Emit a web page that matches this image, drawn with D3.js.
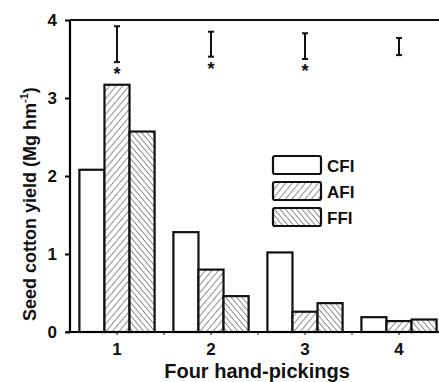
<!DOCTYPE html>
<html>
<head>
<meta charset="utf-8">
<script src="https://cdn.jsdelivr.net/npm/d3@7"></script>
<style>
  body { margin: 0; background: #fff; }
  text { font-family: "Liberation Sans", Arial, sans-serif; font-weight: bold; fill: #111; }
</style>
</head>
<body>
<div id="chart"></div>
<script>
// hand-picking rounds and treatments
var pickings = ["1", "2", "3", "4"];
var treatments = ["CFI", "AFI", "FFI"];

// seed cotton yield, Mg hm-1, one array per treatment
var cfiValues = [2.08, 1.28, 1.02, 0.19];
var afiValues = [3.17, 0.80, 0.26, 0.14];
var ffiValues = [2.57, 0.46, 0.37, 0.16];

// LSD bars (low, high) and significance marks per picking
var lsdLow = [3.46, 3.53, 3.50, 3.55];
var lsdHigh = [3.92, 3.85, 3.83, 3.77];
var significant = [true, true, true, false];

var yTicks = [0, 1, 2, 3, 4];

var margin = { top: 20, left: 70 },
    width = 376,
    height = 312;

var svg = d3.select("#chart").append("svg")
    .attr("width", 439)
    .attr("height", 382);

var defs = svg.append("defs");

function hatch(id, dir, gap) {
    var p = defs.append("pattern")
        .attr("id", id)
        .attr("patternUnits", "userSpaceOnUse")
        .attr("width", gap)
        .attr("height", gap)
        .attr("patternTransform", "rotate(" + dir + ")");
    p.append("rect").attr("width", gap).attr("height", gap).attr("fill", "#fff");
    p.append("line")
        .attr("x1", 0).attr("y1", 0)
        .attr("x2", 0).attr("y2", gap)
        .attr("stroke", "#222")
        .attr("stroke-width", 1);
}
hatch("afi", 40, 5);
hatch("ffi", -40, 4.2);

var fills = { CFI: "#fff", AFI: "url(#afi)", FFI: "url(#ffi)" };

var g = svg.append("g")
    .attr("transform", "translate(" + margin.left + "," + margin.top + ")");

var x0 = d3.scaleBand()
    .domain(pickings)
    .range([0, width])
    .paddingInner(0.2)
    .paddingOuter(0.1);

var outer = d3.scaleBand()
    .domain(pickings)
    .range([0, width]);

var x1 = d3.scaleBand()
    .domain(treatments)
    .range([0, x0.bandwidth()]);

var y = d3.scaleLinear()
    .domain([0, 4])
    .range([height, 0]);

var rows = pickings.map(function (p, i) {
    return { picking: p, values: [cfiValues[i], afiValues[i], ffiValues[i]] };
});

// bars
var group = g.selectAll(".group")
    .data(rows)
    .enter().append("g")
    .attr("class", "group")
    .attr("transform", function (d) { return "translate(" + x0(d.picking) + ",0)"; });

group.selectAll("rect")
    .data(function (d) { return d.values.map(function (v, i) { return { t: treatments[i], v: v }; }); })
    .enter().append("rect")
    .attr("x", function (d) { return x1(d.t); })
    .attr("y", function (d) { return y(d.v); })
    .attr("width", x1.bandwidth())
    .attr("height", function (d) { return height - y(d.v); })
    .attr("fill", function (d) { return fills[d.t]; })
    .attr("stroke", "#111")
    .attr("stroke-width", 2.2);

// top frame line
g.append("line")
    .attr("x1", 0).attr("x2", width + 10)
    .attr("y1", 0).attr("y2", 0)
    .attr("stroke", "#111").attr("stroke-width", 2);

// y axis
var yAxis = g.append("g")
    .call(d3.axisLeft(y).tickValues(yTicks).tickFormat(d3.format("d")).tickSize(5).tickPadding(8));
yAxis.select(".domain").attr("stroke-width", 2.2).attr("d", "M0,0V" + (height + 1));
yAxis.selectAll(".tick line").attr("stroke-width", 2);
yAxis.selectAll("text").style("font-size", "17px");

// x axis
var xAxis = g.append("g")
    .attr("transform", "translate(0," + height + ")")
    .call(d3.axisBottom(x0).tickSize(3).tickPadding(8));
xAxis.select(".domain").attr("stroke-width", 2.2).attr("d", "M-4,0H" + (width + 10));
xAxis.selectAll("text").style("font-size", "17px");

// boundary ticks between pickings
g.selectAll(".btick")
    .data(pickings.slice(1))
    .enter().append("line")
    .attr("x1", function (d) { return outer(d); })
    .attr("x2", function (d) { return outer(d); })
    .attr("y1", height).attr("y2", height + 3)
    .attr("stroke", "#111");

// LSD bars
var lsd = g.selectAll(".lsd")
    .data(pickings)
    .enter().append("g")
    .attr("class", "lsd")
    .attr("transform", function (d) { return "translate(" + (x0(d) + x0.bandwidth() / 2) + ",0)"; });

lsd.append("line")
    .attr("y1", function (d, i) { return y(lsdLow[i]); })
    .attr("y2", function (d, i) { return y(lsdHigh[i]); })
    .attr("stroke", "#111").attr("stroke-width", 2);
lsd.append("line")
    .attr("x1", -3).attr("x2", 3)
    .attr("y1", function (d, i) { return y(lsdLow[i]); })
    .attr("y2", function (d, i) { return y(lsdLow[i]); })
    .attr("stroke", "#111").attr("stroke-width", 2);
lsd.append("line")
    .attr("x1", -3).attr("x2", 3)
    .attr("y1", function (d, i) { return y(lsdHigh[i]); })
    .attr("y2", function (d, i) { return y(lsdHigh[i]); })
    .attr("stroke", "#111").attr("stroke-width", 2);
lsd.filter(function (d, i) { return significant[i]; })
    .append("text")
    .attr("y", function (d, i) { return y(lsdLow[i]) + 18; })
    .attr("text-anchor", "middle")
    .style("font-size", "18px")
    .text("*");

// legend
var legend = svg.append("g")
    .attr("transform", "translate(273,156)");
var item = legend.selectAll(".item")
    .data(treatments)
    .enter().append("g")
    .attr("transform", function (d, i) { return "translate(0," + i * 26 + ")"; });
item.append("rect")
    .attr("width", 48).attr("height", 18)
    .attr("rx", 2)
    .attr("fill", function (d) { return fills[d]; })
    .attr("stroke", "#111").attr("stroke-width", 2.2);
item.append("text")
    .attr("x", 54).attr("y", 16)
    .style("font-size", "17px")
    .text(function (d) { return d; });

// axis titles
svg.append("text")
    .attr("x", margin.left + width / 2 - 1)
    .attr("y", 378)
    .attr("text-anchor", "middle")
    .style("font-size", "20px")
    .text("Four hand-pickings");

var yt = svg.append("text")
    .attr("transform", "translate(36,321) rotate(-90)")
    .style("font-size", "18px");
yt.append("tspan").text("Seed cotton yield (Mg hm");
yt.append("tspan").attr("dy", -8).style("font-size", "11px").text("-1");
yt.append("tspan").attr("dy", 8).text(")");
</script>
</body>
</html>
